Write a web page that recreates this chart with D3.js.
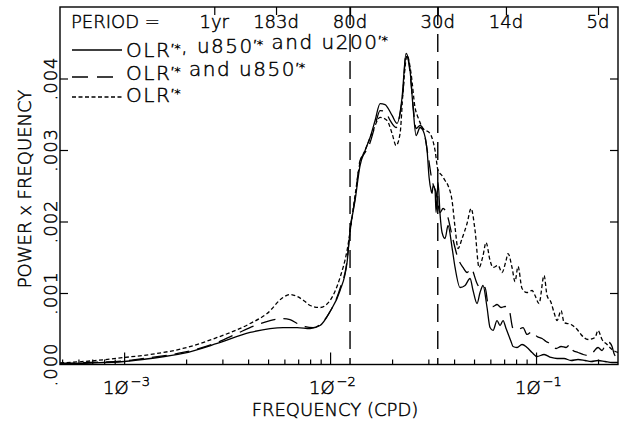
<!DOCTYPE html>
<html><head><meta charset="utf-8">
<script src="https://cdn.jsdelivr.net/npm/d3@7"></script>
<style>
body{margin:0;background:#fff}
svg{display:block}
text{font-family:"DejaVu Sans",sans-serif;font-weight:200;fill:#000;stroke:#000;stroke-width:0.45}
</style>
</head><body>
<svg id="chart" width="621" height="423"></svg>
<script>
// ---------- data ----------
const freqSolid = [0.000489,0.000684,0.001,0.00134,0.00193,0.00283,0.00409,0.00511,0.00591,0.00692,0.008,0.00894,0.01,0.01118,0.01209,0.01251,0.01322,0.01398,0.01479,0.01564,0.01654,0.01749,0.01849,0.02,0.02115,0.02236,0.02338,0.02445,0.02529,0.02615,0.02735,0.02828,0.02958,0.03025,0.03093,0.03127,0.03162,0.03234,0.0327,0.03344,0.0342,0.03497,0.03616,0.03739,0.0391,0.04044,0.04276,0.04522,0.04782,0.04945,0.05171,0.05347,0.05529,0.05782,0.0598,0.06184,0.06466,0.06686,0.06916,0.07152,0.0756,0.07731,0.08085,0.0855,0.09044,0.09563,0.1011,0.1094,0.1183,0.1265,0.1368,0.1479,0.1599,0.1729,0.1849,0.2,0.2163,0.2339,0.25];
const valSolid = [0.000014,0.000021,0.000042,0.000084,0.000154,0.000294,0.000448,0.000503,0.000517,0.000517,0.000503,0.000545,0.000741,0.001035,0.001427,0.001874,0.002294,0.002783,0.002993,0.003175,0.003413,0.00365,0.003636,0.003483,0.003371,0.003734,0.00435,0.004112,0.003594,0.003203,0.003315,0.003273,0.002993,0.002615,0.002434,0.002392,0.002503,0.002434,0.002126,0.002545,0.002098,0.001846,0.001762,0.001944,0.001636,0.001357,0.001077,0.001105,0.001203,0.001035,0.000853,0.001007,0.001105,0.000797,0.000517,0.000476,0.000615,0.000545,0.000615,0.000503,0.000322,0.000252,0.000238,0.00028,0.000238,0.000168,0.000112,0.00014,0.000098,0.000084,0.000084,0.000056,0.00007,0.000056,0.000042,0.000056,0.000042,0.000028,0.000028];

const freqLong = [0.000489,0.000684,0.001,0.00134,0.00193,0.00283,0.003536,0.004324,0.00511,0.00591,0.00639,0.00692,0.00756,0.00827,0.00894,0.01,0.01118,0.01209,0.01251,0.01322,0.01398,0.01479,0.01564,0.01654,0.01749,0.01849,0.01956,0.02091,0.02187,0.02262,0.02338,0.02445,0.02529,0.02615,0.02735,0.0286,0.0299,0.03127,0.0327,0.0342,0.03536,0.03698,0.0391,0.04182,0.04422,0.04624,0.04836,0.05171,0.05408,0.05654,0.05848,0.06184,0.06466,0.06762,0.07072,0.07394,0.07731,0.08176,0.08648,0.09044,0.09563,0.1011,0.107,0.1118,0.1196,0.1251,0.1323,0.1398,0.1462,0.1512,0.1599,0.1691,0.1788,0.187,0.2,0.2091,0.2187,0.2262,0.2339,0.2391,0.2445,0.25];
const valLong = [0.000014,0.000028,0.000049,0.000098,0.000168,0.000308,0.000434,0.000545,0.000615,0.000643,0.000629,0.000573,0.000531,0.000517,0.000559,0.000741,0.001063,0.001455,0.001888,0.002322,0.002853,0.002965,0.003105,0.003343,0.003552,0.003538,0.003413,0.003315,0.00351,0.003832,0.00435,0.004084,0.003622,0.003301,0.003343,0.003245,0.002923,0.002573,0.002406,0.002126,0.002182,0.002098,0.001804,0.001483,0.001357,0.001287,0.001343,0.001133,0.001049,0.001077,0.000853,0.000811,0.000839,0.000797,0.000811,0.000769,0.000503,0.00049,0.000517,0.00042,0.000462,0.000392,0.000364,0.000322,0.00028,0.000224,0.000252,0.000238,0.00028,0.000196,0.000168,0.00014,0.000126,0.000154,0.000238,0.000196,0.000294,0.000308,0.000252,0.000154,0.000112,0.00014];

const freqShort = [0.000489,0.000684,0.001,0.00134,0.00193,0.00283,0.00409,0.004945,0.00591,0.00639,0.00692,0.00756,0.008,0.00894,0.01,0.01118,0.01209,0.01322,0.01398,0.01479,0.01617,0.01749,0.01891,0.02,0.02091,0.02187,0.02262,0.02365,0.02473,0.02585,0.02674,0.02828,0.03058,0.03234,0.03344,0.03497,0.03616,0.03739,0.0391,0.04044,0.04182,0.04373,0.04624,0.04836,0.05057,0.05288,0.05529,0.05719,0.0598,0.06184,0.06538,0.06839,0.07152,0.07313,0.07645,0.07907,0.08176,0.0855,0.09044,0.09563,0.09888,0.1034,0.1094,0.1131,0.1183,0.1223,0.1265,0.1323,0.1368,0.1479,0.1599,0.1653,0.1788,0.1934,0.2,0.2091,0.2212,0.2339,0.25];
const valShort = [0.000021,0.000049,0.000098,0.00014,0.000224,0.000378,0.000573,0.000713,0.000937,0.000979,0.000951,0.000881,0.000825,0.000797,0.000895,0.001217,0.001594,0.002364,0.002825,0.002993,0.003273,0.003455,0.003413,0.003231,0.003063,0.003231,0.003832,0.004322,0.00407,0.003594,0.003455,0.003301,0.003231,0.002993,0.002713,0.002643,0.002573,0.002503,0.002294,0.001916,0.001622,0.001762,0.001972,0.002182,0.001874,0.001357,0.001524,0.001706,0.001455,0.001357,0.001385,0.001287,0.001455,0.001552,0.001357,0.001161,0.001371,0.001063,0.001007,0.001035,0.000965,0.000853,0.001245,0.000965,0.000867,0.000727,0.000615,0.000755,0.000587,0.000559,0.000476,0.00042,0.00035,0.000378,0.000476,0.00035,0.00028,0.00021,0.000168];

const periodDays   = [365, 183, 80, 30, 14, 5];
const periodLabels = ["1yr", "183d", "80d", "30d", "14d", "5d"];
const markedPeriods = [80, 30];
const yTickValues = [0, 0.001, 0.002, 0.003, 0.004];
const yTickLabels = [".000", ".001", ".002", ".003", ".004"];
const xMajorValues = [0.001, 0.01, 0.1];
const xMajorExps = ["−3", "−2", "−1"];
const legendLabels = ["OLR′*, u850′* and u200′*", "OLR′* and u850′*", "OLR′*"];

// ---------- layout ----------
const L = 60, R = 618, T = 7, B = 364.5;
const svg = d3.select("#chart");
svg.append("rect").attr("width", 621).attr("height", 423).attr("fill", "#fff");

const x = d3.scaleLog().domain([1/2048, 0.25]).range([L, R]);
const y = d3.scaleLinear().domain([0, 0.005]).range([B, T]);

svg.append("defs").append("clipPath").attr("id", "clip")
  .append("rect").attr("x", L).attr("y", T).attr("width", R - L).attr("height", B - T);

// dashed period markers
svg.append("g").selectAll("line").data(markedPeriods).join("line")
  .attr("x1", d => x(1/d)).attr("x2", d => x(1/d))
  .attr("y1", T).attr("y2", B)
  .attr("stroke", "#000").attr("stroke-width", 1.4).attr("stroke-dasharray", "18,9");

// curves
const line = d3.line().x(d => x(d[0])).y(d => y(d[1])).curve(d3.curveMonotoneX);
const series = [
  {f: freqSolid, v: valSolid, dash: null},
  {f: freqLong, v: valLong, dash: "15,8"},
  {f: freqShort, v: valShort, dash: "4,2.5"}
];
const gc = svg.append("g").attr("clip-path", "url(#clip)");
series.forEach(s => {
  gc.append("path").datum(d3.zip(s.f, s.v)).attr("d", line)
    .attr("fill", "none").attr("stroke", "#000").attr("stroke-width", 1.3)
    .attr("stroke-dasharray", s.dash);
});

// axes
function styleAxis(g){ g.select(".domain").remove(); g.selectAll("line").attr("stroke","#000").attr("stroke-width",1.2); g.selectAll("text").remove(); }
const minor = [];
[0.0001, 0.001, 0.01, 0.1].forEach(p => { for (let k = 2; k <= 9; k++) { const v = k*p; if (v > 1/2048 && v < 0.25) minor.push(v); } });
svg.append("g").attr("transform", `translate(0,${B})`)
  .call(d3.axisBottom(x).tickValues(minor).tickSize(-5).tickFormat("")).call(styleAxis);
svg.append("g").attr("transform", `translate(0,${B})`)
  .call(d3.axisBottom(x).tickValues(xMajorValues).tickSize(-12).tickFormat("")).call(styleAxis);
svg.append("g").attr("transform", `translate(0,${T})`)
  .call(d3.axisTop(x).tickValues(periodDays.map(d => 1/d)).tickSize(-8).tickFormat("")).call(styleAxis);
svg.append("g").attr("transform", `translate(${L},0)`)
  .call(d3.axisLeft(y).tickValues(yTickValues.slice(1)).tickSize(-8).tickFormat("")).call(styleAxis);
svg.append("g").attr("transform", `translate(${R},0)`)
  .call(d3.axisRight(y).tickValues(yTickValues.slice(1)).tickSize(-8).tickFormat("")).call(styleAxis);

// frame
svg.append("rect").attr("x", L).attr("y", T).attr("width", R - L).attr("height", B - T)
  .attr("fill", "none").attr("stroke", "#000").attr("stroke-width", 1.4);

// y tick labels (rotated)
svg.append("g").selectAll("text").data(yTickValues).join("text")
  .attr("transform", d => `translate(57,${y(d)}) rotate(-90)`)
  .attr("text-anchor", "middle").attr("font-size", 18).attr("letter-spacing", 1)
  .text((d, i) => yTickLabels[i]);

// x tick labels
const xl = svg.append("g").selectAll("text").data(xMajorValues).join("text")
  .attr("x", d => x(d) - 21).attr("y", 394).attr("font-size", 18);
xl.append("tspan").text("1Ø");
xl.append("tspan").attr("dy", -8).attr("font-size", 13).attr("dx", 2).text((d, i) => xMajorExps[i]);

// titles
svg.append("text").attr("x", 335).attr("y", 416).attr("text-anchor", "middle")
  .attr("font-size", 18).text("FREQUENCY (CPD)");
svg.append("text").attr("transform", "translate(31,189) rotate(-90)").attr("text-anchor", "middle")
  .attr("font-size", 18).text("POWER x FREQUENCY");

// period labels
svg.append("text").attr("x", 71).attr("y", 28).attr("font-size", 18).text("PERIOD  =");
svg.append("g").selectAll("text").data(periodDays).join("text")
  .attr("x", d => x(1/d)).attr("y", 28).attr("text-anchor", "middle").attr("font-size", 18)
  .text((d, i) => periodLabels[i]);

// legend
const legY = [50, 77, 97];
const legTextY = [57, 80, 102];
const legDash = [null, "16,9", "4,2.5"];
legendLabels.forEach((lab, i) => {
  svg.append("line").attr("x1", 72).attr("x2", 122).attr("y1", legY[i]).attr("y2", legY[i])
    .attr("stroke", "#000").attr("stroke-width", 1.3).attr("stroke-dasharray", legDash[i]);
  const t = svg.append("text").attr("x", 126).attr("y", legTextY[i]).attr("font-size", 20)
    .attr("letter-spacing", 1.5);
  const parts = lab.split("′*");
  parts.forEach((p, j) => {
    if (p) t.append("tspan").text(p);
    if (j < parts.length - 1) {
      t.append("tspan").attr("font-size", 13).attr("dy", -4).attr("letter-spacing", 0.5).text("′*");
      t.append("tspan").attr("dy", 4).text("");
    }
  });
});
</script>
</body></html>
